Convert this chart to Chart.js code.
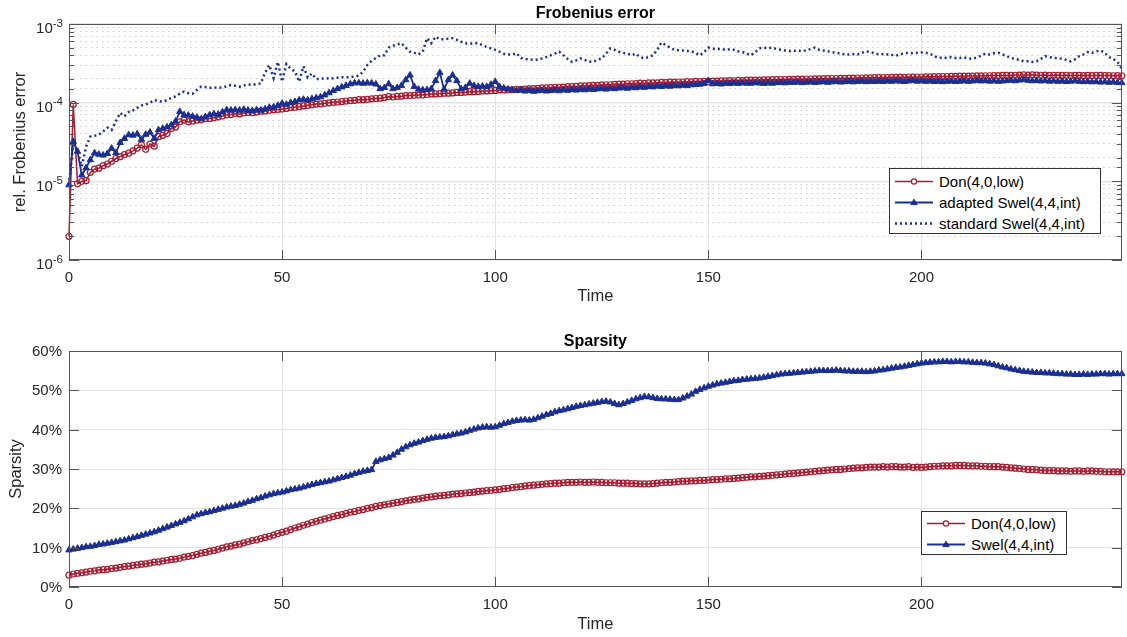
<!DOCTYPE html>
<html>
<head>
<meta charset="utf-8">
<title>Frobenius error and sparsity</title>
<script src="https://cdn.jsdelivr.net/npm/chart.js@4"></script>
<style>
  body { margin: 0; background: #fff; overflow: hidden; font-family: "Liberation Sans", Arial, sans-serif; }
  #wrap { position: relative; width: 1127px; height: 637px; }
  canvas { position: absolute; left: 0; }
  #errChart { top: 0; }
  #spChart { top: 318px; }
  .legend { position: absolute; box-sizing: border-box; background: #fff; border: 1px solid #333;
            font-size: 15px; color: #000; padding: 2px 0 0 5px; z-index: 2; }
  .legend div { height: 21px; display: flex; align-items: center; white-space: nowrap; }
  .legend svg { margin-right: 6px; flex: none; }
  #legErr { left: 889px; top: 168px; width: 212px; height: 66px; }
  #legSp { left: 921px; top: 511px; width: 146px; height: 44px; padding-top: 1px; }
</style>
</head>
<body>
<div id="wrap">
  <canvas id="errChart" width="1127" height="318"></canvas>
  <canvas id="spChart" width="1127" height="319"></canvas>
  <div class="legend" id="legErr"></div>
  <div class="legend" id="legSp"></div>
</div>
<script>
// time steps 0..247
const times = Array.from({length: 248}, (_, i) => i);

// relative Frobenius error, in units of 1e-5
const donErr = [
  0.20, 9.50, 0.93, 1.00, 1.02, 1.30, 1.43, 1.47, 1.58, 1.66,
  1.80, 1.95, 2.06, 2.18, 2.28, 2.44, 2.65, 2.90, 2.55, 2.98,
  2.80, 3.70, 3.85, 4.05, 4.70, 4.90, 5.70, 6.00, 5.70, 5.85,
  6.00, 6.05, 6.25, 6.30, 6.45, 6.60, 6.75, 7.00, 7.05, 7.30,
  7.20, 7.40, 7.50, 7.45, 7.60, 7.80, 7.85, 8.00, 8.15, 8.20,
  8.30, 8.45, 8.70, 8.75, 8.90, 9.10, 9.25, 9.40, 9.60, 9.65,
  9.80, 9.95, 10.1, 10.2, 10.3, 10.5, 10.6, 10.7, 10.9, 10.9,
  11.0, 11.2, 11.3, 11.4, 11.6, 11.9, 11.8, 12.0, 12.1, 12.3,
  12.3, 12.4, 12.5, 12.5, 12.7, 12.9, 12.9, 13.0, 13.2, 13.2,
  13.3, 13.5, 13.5, 13.6, 13.8, 13.8, 13.9, 14.1, 14.1, 14.2,
  14.3, 14.5, 14.5, 14.6, 14.6, 14.8, 14.8, 14.9, 15.1, 15.1,
  15.2, 15.4, 15.4, 15.5, 15.7, 15.7, 15.8, 16.0, 16.0, 16.1,
  16.3, 16.3, 16.5, 16.6, 16.6, 16.8, 16.9, 16.9, 17.1, 17.2,
  17.2, 17.4, 17.4, 17.5, 17.7, 17.6, 17.8, 17.8, 17.9, 18.1,
  18.0, 18.2, 18.2, 18.3, 18.3, 18.5, 18.4, 18.6, 18.5, 18.7,
  18.6, 18.8, 18.8, 18.9, 18.9, 19.1, 19.0, 19.2, 19.1, 19.3,
  19.3, 19.4, 19.4, 19.5, 19.5, 19.6, 19.6, 19.7, 19.7, 19.8,
  19.8, 19.9, 19.9, 20.0, 20.0, 20.1, 20.1, 20.2, 20.2, 20.3,
  20.3, 20.4, 20.4, 20.5, 20.5, 20.6, 20.6, 20.7, 20.7, 20.8,
  20.8, 20.9, 20.9, 21.0, 21.0, 21.1, 21.0, 21.2, 21.1, 21.2,
  21.2, 21.3, 21.3, 21.4, 21.4, 21.5, 21.5, 21.6, 21.6, 21.7,
  21.7, 21.8, 21.8, 21.9, 21.9, 22.0, 22.0, 22.1, 22.1, 22.2,
  22.2, 22.3, 22.3, 22.4, 22.5, 22.4, 22.5, 22.4, 22.3, 22.4,
  22.2, 22.3, 22.3, 22.2, 22.3, 22.1, 22.2, 22.2, 22.1, 22.2,
  22.1, 22.2, 22.2, 22.1, 22.1, 22.0, 22.1, 22.0
];
const adaptedErr = [
  0.90, 3.20, 2.40, 1.20, 1.48, 1.87, 2.29, 2.20, 2.15, 2.25,
  2.63, 2.30, 3.10, 3.50, 3.90, 3.85, 4.00, 3.40, 3.95, 4.20,
  3.50, 4.50, 4.70, 4.90, 5.20, 5.80, 7.70, 7.00, 6.90, 6.70,
  6.50, 6.20, 6.60, 7.00, 7.20, 7.10, 7.60, 8.10, 8.00, 8.10,
  8.00, 8.20, 8.00, 7.90, 8.10, 8.00, 8.30, 8.70, 8.80, 9.20,
  9.80, 9.50, 10.0, 10.3, 10.8, 11.0, 10.8, 11.2, 11.5, 11.8,
  12.5, 13.3, 14.2, 15.0, 15.8, 16.5, 17.3, 17.8, 17.8, 17.6,
  17.8, 17.7, 17.2, 15.0, 15.5, 17.3, 15.0, 15.5, 16.5, 19.5,
  22.4, 16.0, 14.8, 14.5, 14.6, 15.0, 19.0, 24.0, 14.8, 19.5,
  22.4, 19.0, 15.0, 15.5, 17.6, 16.5, 16.0, 16.2, 16.0, 17.0,
  18.5, 16.0, 15.3, 14.8, 14.6, 14.2, 14.5, 14.0, 14.3, 13.9,
  14.1, 14.3, 14.0, 14.2, 14.4, 14.1, 14.5, 14.3, 14.6, 14.4,
  14.7, 14.5, 14.8, 14.6, 14.9, 15.1, 14.8, 15.2, 15.0, 15.3,
  15.4, 15.2, 15.6, 15.4, 15.8, 15.6, 16.0, 15.8, 16.2, 16.0,
  16.3, 16.1, 16.5, 16.3, 16.6, 16.4, 16.8, 16.9, 17.1, 17.4,
  19.0, 17.3, 17.5, 17.2, 17.6, 17.4, 17.7, 17.5, 17.8, 17.6,
  17.6, 17.9, 17.7, 17.5, 17.8, 17.6, 17.9, 18.0, 17.8, 18.1,
  18.0, 18.2, 17.9, 18.1, 18.3, 18.0, 18.2, 18.4, 18.1, 18.3,
  18.5, 18.2, 18.4, 18.6, 18.3, 18.5, 18.7, 18.4, 18.6, 18.5,
  18.7, 18.5, 18.8, 18.6, 18.9, 18.7, 18.5, 18.8, 19.0, 18.7,
  18.9, 18.6, 18.8, 18.5, 18.7, 18.4, 18.6, 18.8, 18.5, 18.7,
  18.9, 18.6, 18.8, 19.1, 18.8, 19.0, 18.7, 18.9, 18.6, 18.8,
  19.0, 19.2, 18.9, 19.3, 19.6, 19.2, 18.9, 19.1, 18.8, 19.0,
  18.7, 18.9, 18.6, 18.8, 18.5, 18.7, 18.9, 18.6, 18.4, 18.6,
  18.3, 18.5, 18.2, 18.4, 18.1, 18.3, 18.0, 17.9
];
const standardErr = [
  0.90, 3.20, 2.40, 1.55, 2.75, 3.70, 3.80, 3.90, 4.30, 4.80,
  4.50, 5.80, 7.40, 6.70, 7.60, 8.00, 8.60, 9.20, 9.50, 10.0,
  10.8, 10.5, 10.3, 10.8, 11.5, 12.0, 13.0, 13.8, 13.2, 13.0,
  14.5, 16.0, 15.8, 15.5, 15.5, 15.6, 15.5, 16.2, 16.8, 16.4,
  16.0, 16.5, 17.0, 16.8, 17.2, 17.5, 24.0, 30.0, 20.5, 33.0,
  18.5, 31.0, 27.0, 25.0, 18.5, 29.0, 21.0, 23.5, 20.0, 20.0,
  20.5, 20.2, 20.4, 20.8, 21.0, 21.0, 21.2, 21.5, 22.0, 24.8,
  30.0, 34.0, 37.0, 40.0, 40.0, 50.0, 53.0, 55.0, 57.0, 50.0,
  44.5, 43.0, 41.0, 44.5, 66.0, 57.0, 69.0, 64.0, 64.0, 65.0,
  66.0, 63.0, 59.5, 57.0, 56.0, 57.0, 57.0, 54.0, 51.0, 49.0,
  47.0, 44.5, 42.0, 41.0, 41.0, 42.5, 37.0, 36.0, 35.5, 35.0,
  35.0, 36.5, 38.0, 40.0, 42.0, 44.5, 40.0, 36.0, 33.0, 34.5,
  36.5, 35.0, 33.5, 33.0, 35.0, 36.6, 42.0, 49.0, 47.0, 44.5,
  43.0, 42.0, 40.0, 42.0, 38.0, 36.6, 38.0, 40.0, 47.0, 58.0,
  54.0, 50.0, 47.0, 46.5, 46.0, 45.5, 45.0, 43.0, 40.0, 44.0,
  50.0, 48.5, 48.0, 48.0, 47.0, 47.5, 47.0, 45.0, 44.0, 42.0,
  40.0, 44.0, 49.0, 50.0, 49.5, 50.0, 48.0, 47.0, 46.0, 45.5,
  45.5, 46.0, 45.0, 46.5, 48.0, 50.0, 47.0, 46.0, 45.0, 44.0,
  43.0, 42.0, 41.0, 41.0, 41.5, 41.0, 43.0, 45.0, 44.0, 42.5,
  41.0, 41.5, 41.0, 40.5, 39.5, 41.0, 42.5, 43.0, 42.5, 43.0,
  43.5, 43.0, 42.0, 39.0, 37.0, 37.5, 37.0, 38.0, 37.0, 37.0,
  37.5, 36.5, 36.0, 37.5, 39.5, 42.0, 41.0, 42.5, 43.0, 41.0,
  39.0, 37.0, 36.0, 35.0, 33.5, 33.5, 33.0, 33.5, 36.0, 39.0,
  38.0, 37.0, 37.0, 36.0, 35.0, 33.5, 35.5, 39.0, 41.0, 44.0,
  43.0, 45.0, 46.0, 43.0, 38.0, 36.0, 33.0, 27.0
];

// sparsity in percent
const donSparsity = [
  3.0, 3.3, 3.5, 3.6, 3.8, 4.0, 4.1, 4.3, 4.4, 4.5,
  4.7, 4.8, 5.0, 5.2, 5.3, 5.5, 5.6, 5.8, 5.9, 6.1,
  6.3, 6.4, 6.6, 6.8, 7.0, 7.1, 7.3, 7.6, 7.8, 8.0,
  8.3, 8.6, 8.8, 9.1, 9.3, 9.6, 9.9, 10.2, 10.4, 10.7,
  10.9, 11.2, 11.5, 11.8, 12.0, 12.3, 12.6, 12.9, 13.2, 13.6,
  13.9, 14.2, 14.6, 15.0, 15.3, 15.7, 16.0, 16.4, 16.7, 17.0,
  17.3, 17.6, 17.9, 18.2, 18.4, 18.7, 19.0, 19.2, 19.5, 19.7,
  20.0, 20.2, 20.5, 20.7, 20.9, 21.1, 21.3, 21.5, 21.7, 21.9,
  22.1, 22.3, 22.4, 22.6, 22.8, 22.9, 23.1, 23.2, 23.3, 23.4,
  23.6, 23.7, 23.8, 23.9, 24.0, 24.1, 24.3, 24.4, 24.5, 24.6,
  24.7, 24.8, 25.0, 25.1, 25.3, 25.4, 25.5, 25.7, 25.8, 25.9,
  26.0, 26.1, 26.2, 26.3, 26.4, 26.4, 26.5, 26.6, 26.6, 26.6,
  26.7, 26.6, 26.6, 26.7, 26.6, 26.6, 26.5, 26.5, 26.5, 26.4,
  26.4, 26.4, 26.3, 26.3, 26.2, 26.2, 26.2, 26.3, 26.4, 26.5,
  26.6, 26.6, 26.7, 26.8, 26.9, 26.9, 27.0, 27.0, 27.1, 27.1,
  27.2, 27.3, 27.3, 27.4, 27.5, 27.5, 27.6, 27.7, 27.8, 27.9,
  28.0, 28.0, 28.1, 28.2, 28.3, 28.4, 28.5, 28.6, 28.7, 28.8,
  28.9, 29.0, 29.1, 29.2, 29.3, 29.4, 29.5, 29.6, 29.7, 29.8,
  29.9, 29.9, 30.0, 30.1, 30.2, 30.3, 30.3, 30.4, 30.5, 30.5,
  30.5, 30.6, 30.5, 30.6, 30.6, 30.5, 30.5, 30.6, 30.4, 30.5,
  30.4, 30.5, 30.6, 30.7, 30.7, 30.8, 30.8, 30.8, 30.9, 30.9,
  30.9, 30.8, 30.8, 30.8, 30.7, 30.7, 30.6, 30.6, 30.6, 30.5,
  30.4, 30.3, 30.2, 30.1, 30.0, 29.9, 29.9, 29.8, 29.7, 29.6,
  29.6, 29.6, 29.5, 29.5, 29.5, 29.4, 29.5, 29.5, 29.4, 29.5,
  29.5, 29.4, 29.4, 29.3, 29.3, 29.3, 29.3, 29.3
];
const swelSparsity = [
  9.4, 9.6, 9.8, 10.0, 10.2, 10.3, 10.5, 10.8, 10.9, 11.1,
  11.3, 11.5, 11.7, 11.9, 12.2, 12.5, 12.8, 13.1, 13.4, 13.7,
  14.0, 14.4, 14.8, 15.2, 15.6, 16.0, 16.4, 16.8, 17.3, 17.8,
  18.3, 18.6, 18.9, 19.1, 19.4, 19.7, 20.0, 20.3, 20.5, 20.7,
  21.0, 21.3, 21.7, 22.0, 22.4, 22.7, 23.1, 23.4, 23.7, 23.9,
  24.1, 24.4, 24.7, 24.9, 25.1, 25.4, 25.7, 26.0, 26.3, 26.5,
  26.7, 26.9, 27.2, 27.5, 27.8, 28.1, 28.4, 28.8, 29.1, 29.4,
  29.6, 29.8, 31.9, 32.3, 32.6, 32.9, 33.5, 34.2, 35.0, 35.6,
  36.1, 36.5, 36.8, 37.2, 37.5, 37.8, 38.0, 38.1, 38.2, 38.4,
  38.7, 38.9, 39.1, 39.4, 39.8, 40.1, 40.4, 40.6, 40.7, 40.6,
  40.7, 41.1, 41.5, 41.8, 42.1, 42.3, 42.4, 42.5, 42.4, 42.6,
  43.0, 43.4, 43.8, 44.1, 44.5, 44.8, 45.0, 45.3, 45.6, 45.9,
  46.1, 46.3, 46.5, 46.7, 46.9, 47.1, 47.2, 47.0, 46.6, 46.3,
  46.6, 47.0, 47.4, 47.8, 48.1, 48.4, 48.3, 48.1, 47.9, 47.8,
  47.8, 47.7, 47.6, 47.6, 48.0, 48.5, 49.0, 49.7, 50.2, 50.6,
  51.0, 51.3, 51.6, 51.8, 52.0, 52.2, 52.4, 52.5, 52.7, 52.8,
  52.9, 53.0, 53.1, 53.3, 53.5, 53.7, 53.9, 54.1, 54.2, 54.3,
  54.4, 54.5, 54.6, 54.7, 54.8, 54.9, 55.0, 55.0, 55.0, 55.0,
  55.1, 55.0, 54.9, 54.9, 54.8, 54.8, 54.8, 54.7, 54.8, 54.9,
  55.1, 55.2, 55.4, 55.6, 55.8, 55.9, 56.1, 56.3, 56.5, 56.7,
  56.9, 57.0, 57.1, 57.2, 57.2, 57.3, 57.3, 57.2, 57.3, 57.3,
  57.2, 57.2, 57.1, 57.0, 57.0, 56.9, 56.7, 56.5, 56.2, 55.9,
  55.7, 55.4, 55.2, 55.0, 54.8, 54.7, 54.6, 54.5, 54.5, 54.4,
  54.4, 54.3, 54.2, 54.2, 54.1, 54.1, 54.0, 54.0, 54.1, 54.0,
  54.1, 54.1, 54.2, 54.2, 54.1, 54.2, 54.2, 54.2
];

const errTicks = [1e-6, 1e-5, 1e-4, 1e-3];
const sparsityTicks = [0, 10, 20, 30, 40, 50, 60];
const timeTicks = [0, 50, 100, 150, 200];

const RED = '#a51c30';
const BLUE = '#1b2f91';
const TICK_COLOR = '#262626';
const GRID = '#e3e3e3';
const NONE = 'rgba(0,0,0,0)';
const FONT = '"Liberation Sans", Arial, sans-serif';

Chart.defaults.font.family = FONT;
Chart.defaults.color = TICK_COLOR;

const toPoints = (vals, unit) => vals.map((v, i) => ({x: times[i], y: v * unit}));
const isDecade = v => Math.abs(Math.log10(v) - Math.round(Math.log10(v))) < 1e-6;

// box round the plot area with inward tick marks, and 10^n labels with a raised exponent
const axesBox = {
  id: 'axesBox',
  afterDatasetsDraw(chart, args, opts) {
    const {ctx, chartArea: a, scales} = chart;
    ctx.save();
    ctx.strokeStyle = '#555';
    ctx.lineWidth = 1;
    ctx.beginPath();
    timeTicks.forEach(t => {
      const px = Math.round(scales.x.getPixelForValue(t)) + 0.5;
      ctx.moveTo(px, a.bottom); ctx.lineTo(px, a.bottom - 10);
      ctx.moveTo(px, a.top); ctx.lineTo(px, a.top + 10);
    });
    scales.y.ticks.forEach(t => {
      const py = Math.round(scales.y.getPixelForValue(t.value)) + 0.5;
      const len = (!opts.log || isDecade(t.value)) ? 10 : 5;
      ctx.moveTo(a.left, py); ctx.lineTo(a.left + len, py);
      ctx.moveTo(a.right, py); ctx.lineTo(a.right - len, py);
    });
    ctx.stroke();
    ctx.strokeRect(Math.round(a.left) + 0.5, Math.round(a.top) + 0.5,
                   Math.round(a.width) - 1, Math.round(a.height) - 1);
    if (opts.log) {
      ctx.fillStyle = TICK_COLOR;
      ctx.textAlign = 'right';
      ctx.textBaseline = 'alphabetic';
      const right = a.left - 6;
      errTicks.forEach(v => {
        const py = scales.y.getPixelForValue(v);
        const exp = String(Math.round(Math.log10(v)));
        ctx.font = '11.5px ' + FONT;
        const expW = ctx.measureText(exp).width;
        ctx.fillText(exp, right, py + 2.8);
        ctx.font = '15px ' + FONT;
        ctx.fillText('10', right - expW, py + 9.4);
      });
    }
    ctx.restore();
  }
};

function timeAxis(height, titlePad) {
  return {
    type: 'linear', min: times[0], max: times[times.length - 1],
    ticks: {stepSize: 50, padding: 9, maxRotation: 0, font: {size: 15}, color: TICK_COLOR},
    afterBuildTicks: s => { s.ticks = timeTicks.map(v => ({value: v})); },
    grid: {drawTicks: false, color: c => (c.tick && c.tick.value > 0) ? GRID : NONE},
    border: {display: false},
    title: {display: true, text: 'Time', color: TICK_COLOR, font: {size: 16.5}, padding: {top: 0, bottom: titlePad}},
    afterFit: s => { s.height = height; }
  };
}

const errSets = [
  {label: 'Don(4,0,low)', data: toPoints(donErr, 1e-5), borderColor: RED, borderWidth: 1.5,
   pointStyle: 'circle', pointRadius: 3, pointBorderWidth: 1.2, pointBorderColor: RED,
   pointBackgroundColor: 'rgba(255,255,255,0)', order: 3, clip: false},
  {label: 'adapted Swel(4,4,int)', data: toPoints(adaptedErr, 1e-5), borderColor: BLUE, borderWidth: 1.8,
   pointStyle: 'triangle', pointRadius: 3.7, pointBorderWidth: 1, pointBorderColor: BLUE,
   pointBackgroundColor: BLUE, order: 2, clip: false},
  {label: 'standard Swel(4,4,int)', data: toPoints(standardErr, 1e-5), borderColor: BLUE, borderWidth: 2.5,
   borderDash: [2, 3], pointRadius: 0, order: 1, clip: false}
];

const spSets = [
  {label: 'Don(4,0,low)', data: toPoints(donSparsity, 1), borderColor: RED, borderWidth: 1.5,
   pointStyle: 'circle', pointRadius: 3, pointBorderWidth: 1.2, pointBorderColor: RED,
   pointBackgroundColor: 'rgba(255,255,255,0)', order: 2, clip: false},
  {label: 'Swel(4,4,int)', data: toPoints(swelSparsity, 1), borderColor: BLUE, borderWidth: 1.8,
   pointStyle: 'triangle', pointRadius: 3.7, pointBorderWidth: 1, pointBorderColor: BLUE,
   pointBackgroundColor: BLUE, order: 1, clip: false}
];

new Chart(document.getElementById('errChart'), {
  type: 'line',
  data: {datasets: errSets},
  options: {
    responsive: false, animation: false, events: [],
    layout: {padding: {left: 0, right: 4, top: 0, bottom: 0}},
    plugins: {
      legend: {display: false}, tooltip: {enabled: false},
      title: {display: true, text: 'Frobenius error', fullSize: false, color: '#000',
              font: {size: 16, weight: 'bold'}, padding: {top: 3.8, bottom: 1}},
      axesBox: {log: true}
    },
    scales: {
      x: timeAxis(58, 12),
      y: {
        type: 'logarithmic', min: errTicks[0], max: errTicks[errTicks.length - 1],
        ticks: {display: false, autoSkip: false},
        grid: {drawTicks: false, lineWidth: 1.5, color: c => (c.tick && isDecade(c.tick.value)) ? GRID : NONE},
        border: {display: false},
        title: {display: true, text: 'rel. Frobenius error', color: TICK_COLOR, font: {size: 16.5}, padding: {top: 11, bottom: 0}},
        afterFit: s => { s.width = 69; }
      },
      yMinor: {
        type: 'logarithmic', position: 'left', min: errTicks[0], max: errTicks[errTicks.length - 1],
        ticks: {display: false, autoSkip: false},
        grid: {drawTicks: false, lineWidth: 1, color: c => (c.tick && !isDecade(c.tick.value)) ? '#cdcdcd' : NONE},
        border: {display: false, dash: [1.5, 4]},
        afterFit: s => { s.width = 0; }
      }
    }
  },
  plugins: [axesBox]
});

new Chart(document.getElementById('spChart'), {
  type: 'line',
  data: {datasets: spSets},
  options: {
    responsive: false, animation: false, events: [],
    layout: {padding: {left: 0, right: 4, top: 0, bottom: 0}},
    plugins: {
      legend: {display: false}, tooltip: {enabled: false},
      title: {display: true, text: 'Sparsity', fullSize: false, color: '#000',
              font: {size: 16, weight: 'bold'}, padding: {top: 13.6, bottom: 0.2}},
      axesBox: {log: false}
    },
    scales: {
      x: timeAxis(50, 3),
      y: {
        type: 'linear', min: sparsityTicks[0], max: sparsityTicks[sparsityTicks.length - 1],
        afterBuildTicks: s => { s.ticks = sparsityTicks.map(v => ({value: v})); },
        ticks: {padding: 7, labelOffset: 1, font: {size: 15}, color: TICK_COLOR, callback: v => v + '%'},
        grid: {drawTicks: false, color: c => (c.tick && c.tick.value > 0) ? GRID : NONE},
        border: {display: false},
        title: {display: true, text: 'Sparsity', color: TICK_COLOR, font: {size: 16.5}, padding: {top: 7, bottom: 0}},
        afterFit: s => { s.width = 69; }
      }
    }
  },
  plugins: [axesBox]
});

// legends drawn as boxed HTML lists inside the plot areas
function buildLegend(el, sets) {
  sets.forEach(ds => {
    const c = ds.borderColor;
    const dash = ds.borderDash ? ` stroke-dasharray="${ds.borderDash.join(' ')}"` : '';
    let marker = '';
    if (ds.pointRadius > 0 && ds.pointStyle === 'circle') {
      marker = `<circle cx="19" cy="10.5" r="2.6" fill="#fff" stroke="${c}" stroke-width="1.2"/>`;
    } else if (ds.pointRadius > 0 && ds.pointStyle === 'triangle') {
      marker = `<polygon points="19,7.2 22.2,12.6 15.8,12.6" fill="${c}" stroke="${c}" stroke-width="1"/>`;
    }
    const row = document.createElement('div');
    row.innerHTML = `<svg width="38" height="21"><line x1="0" y1="10.5" x2="38" y2="10.5" stroke="${c}" stroke-width="${ds.borderWidth}"${dash}/>${marker}</svg><span>${ds.label}</span>`;
    el.appendChild(row);
  });
}
buildLegend(document.getElementById('legErr'), errSets);
buildLegend(document.getElementById('legSp'), spSets);
</script>
</body>
</html>
